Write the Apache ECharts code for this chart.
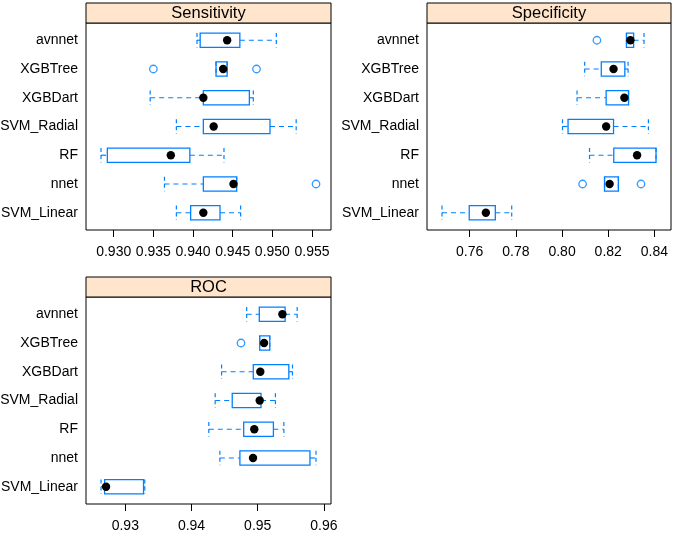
<!DOCTYPE html>
<html>
<head>
<meta charset="utf-8">
<script src="https://cdn.jsdelivr.net/npm/echarts@6/dist/echarts.min.js"></script>
<style>html,body{margin:0;padding:0;background:#fff;}#c{width:675px;height:533px;}</style>
</head>
<body>
<div id="c"></div>
<script>
// categories, bottom to top
const models = ['SVM_Linear', 'nnet', 'RF', 'SVM_Radial', 'XGBDart', 'XGBTree', 'avnnet'];

// Sensitivity
const sensLow  = [0.9379, 0.9364, 0.9284, 0.9379, 0.9346, 0.9429, 0.9405];
const sensQ1   = [0.9397, 0.9413, 0.9292, 0.9413, 0.9413, 0.9429, 0.9409];
const sensMed  = [0.9413, 0.9451, 0.9372, 0.9426, 0.9413, 0.9438, 0.9443];
const sensQ3   = [0.9434, 0.9455, 0.9396, 0.9497, 0.9471, 0.9443, 0.9459];
const sensHigh = [0.9460, 0.9455, 0.9439, 0.9530, 0.9476, 0.9443, 0.9505];
const sensOutModel = ['nnet', 'XGBTree', 'XGBTree'];
const sensOutValue = [0.9555, 0.9350, 0.9480];
const sensTicks = [0.930, 0.935, 0.940, 0.945, 0.950, 0.955];

// Specificity
const specLow  = [0.7480, 0.8184, 0.8119, 0.8002, 0.8065, 0.8098, 0.8279];
const specQ1   = [0.7598, 0.8184, 0.8224, 0.8026, 0.8191, 0.8170, 0.8279];
const specMed  = [0.7670, 0.8206, 0.8325, 0.8191, 0.8270, 0.8223, 0.8296];
const specQ3   = [0.7711, 0.8244, 0.8407, 0.8223, 0.8288, 0.8272, 0.8310];
const specHigh = [0.7782, 0.8244, 0.8407, 0.8374, 0.8288, 0.8286, 0.8355];
const specOutModel = ['nnet', 'nnet', 'avnnet'];
const specOutValue = [0.8089, 0.8342, 0.8151];
const specTicks = [0.76, 0.78, 0.80, 0.82, 0.84];

// ROC
const rocLow  = [0.92633, 0.94428, 0.94261, 0.94357, 0.94454, 0.95030, 0.94833];
const rocQ1   = [0.92687, 0.94731, 0.94788, 0.94615, 0.94933, 0.95030, 0.95024];
const rocMed  = [0.92709, 0.94929, 0.94948, 0.95030, 0.95039, 0.95096, 0.95373];
const rocQ3   = [0.93275, 0.95789, 0.95237, 0.95050, 0.95470, 0.95182, 0.95414];
const rocHigh = [0.93294, 0.95880, 0.95395, 0.95267, 0.95525, 0.95182, 0.95596];
const rocOutModel = ['XGBTree'];
const rocOutValue = [0.94747];
const rocTicks = [0.93, 0.94, 0.95, 0.96];

const panelTitles = ['Sensitivity', 'Specificity', 'ROC'];

const BLUE = '#0080ff';
const FONT = '"Liberation Sans", Arial, Helvetica, sans-serif';

const panels = [
  {title: panelTitles[0], low: sensLow, q1: sensQ1, med: sensMed, q3: sensQ3, high: sensHigh,
   outM: sensOutModel, outV: sensOutValue, ticks: sensTicks, dec: 3,
   grid: {left: 86, top: 23, width: 245, height: 207}, min: 0.92651, max: 0.95739},
  {title: panelTitles[1], low: specLow, q1: specQ1, med: specMed, q3: specQ3, high: specHigh,
   outM: specOutModel, outV: specOutValue, ticks: specTicks, dec: 2,
   grid: {left: 427, top: 23, width: 244, height: 207}, min: 0.74151, max: 0.84719},
  {title: panelTitles[2], low: rocLow, q1: rocQ1, med: rocMed, q3: rocQ3, high: rocHigh,
   outM: rocOutModel, outV: rocOutValue, ticks: rocTicks, dec: 2,
   grid: {left: 86, top: 297, width: 245, height: 207}, min: 0.92406, max: 0.96107}
];

function renderBox(params, api) {
  const y = api.value(0);
  const low = api.value(1), q1 = api.value(2), med = api.value(3), q3 = api.value(4), high = api.value(5);
  const pLow = api.coord([low, y]);
  const pQ1 = api.coord([q1, y]);
  const pMed = api.coord([med, y]);
  const pQ3 = api.coord([q3, y]);
  const pHigh = api.coord([high, y]);
  const h = api.size([0, 0.5])[1];
  const dash = {stroke: BLUE, lineWidth: 1.2, lineDash: [5, 4]};
  const solid = {stroke: BLUE, lineWidth: 1.3, fill: 'rgba(255,255,255,0)'};
  const children = [];
  if (pQ1[0] - pLow[0] > 0.5) {
    children.push({type: 'line', shape: {x1: pLow[0], y1: pLow[1], x2: pQ1[0], y2: pQ1[1]}, style: dash});
  }
  if (pHigh[0] - pQ3[0] > 0.5) {
    children.push({type: 'line', shape: {x1: pQ3[0], y1: pQ3[1], x2: pHigh[0], y2: pHigh[1]}, style: dash});
  }
  children.push({type: 'line', shape: {x1: pLow[0], y1: pLow[1] - h / 2, x2: pLow[0], y2: pLow[1] + h / 2}, style: {stroke: BLUE, lineWidth: 1.2, lineDash: [4, 3]}});
  children.push({type: 'line', shape: {x1: pHigh[0], y1: pHigh[1] - h / 2, x2: pHigh[0], y2: pHigh[1] + h / 2}, style: {stroke: BLUE, lineWidth: 1.2, lineDash: [4, 3]}});
  children.push({type: 'rect', shape: {x: pQ1[0], y: pQ1[1] - h / 2, width: pQ3[0] - pQ1[0], height: h}, style: solid});
  children.push({type: 'circle', shape: {cx: pMed[0], cy: pMed[1], r: 4.2}, style: {fill: '#000'}});
  return {type: 'group', children: children};
}

const grids = [], xAxes = [], yAxes = [], series = [], graphics = [];
panels.forEach((p, i) => {
  grids.push(Object.assign({show: true, borderColor: '#000', borderWidth: 1, backgroundColor: '#fff', outerBoundsMode: 'none'}, p.grid));
  xAxes.push({
    type: 'value', gridIndex: i, min: p.min, max: p.max, position: 'bottom',
    axisLine: {show: false},
    splitLine: {show: false},
    axisTick: {show: true, length: 7, inside: false, customValues: p.ticks, lineStyle: {color: '#000', width: 1}},
    axisLabel: {show: true, customValues: p.ticks, margin: 15, color: '#000', fontSize: 14, fontFamily: FONT,
      formatter: v => Number(v).toFixed(p.dec)}
  });
  yAxes.push({
    type: 'value', gridIndex: i, min: 0.4, max: 7.6,
    axisLine: {show: false}, splitLine: {show: false}, axisTick: {show: false},
    axisLabel: {show: true, customValues: [1, 2, 3, 4, 5, 6, 7], margin: 8, color: '#000', fontSize: 14, fontFamily: FONT,
      formatter: v => models[Math.round(v) - 1] || ''}
  });
  const boxData = models.map((m, k) => [k + 1, p.low[k], p.q1[k], p.med[k], p.q3[k], p.high[k]]);
  series.push({
    type: 'custom', xAxisIndex: i, yAxisIndex: i, renderItem: renderBox,
    encode: {x: [1, 2, 3, 4, 5], y: 0}, data: boxData, silent: true, clip: false
  });
  const outData = p.outM.map((m, k) => [p.outV[k], models.indexOf(m) + 1]);
  series.push({
    type: 'scatter', xAxisIndex: i, yAxisIndex: i, data: outData, symbol: 'circle', symbolSize: 7.5,
    itemStyle: {color: '#fff', borderColor: BLUE, borderWidth: 1.3}, silent: true
  });
  // strip
  const g = p.grid;
  graphics.push({
    type: 'group', children: [
      {type: 'rect', shape: {x: g.left, y: g.top - 20, width: g.width, height: 20},
       style: {fill: '#ffe5cc', stroke: '#000', lineWidth: 1}},
      {type: 'text', x: g.left + g.width / 2, y: g.top - 10,
       style: {text: p.title, fill: '#000', font: '16.5px ' + FONT, textAlign: 'center', textVerticalAlign: 'middle'}}
    ]
  });
});

const chart = echarts.init(document.getElementById('c'), null, {renderer: 'canvas'});
chart.setOption({
  animation: false,
  backgroundColor: '#fff',
  grid: grids,
  xAxis: xAxes,
  yAxis: yAxes,
  series: series,
  graphic: graphics
});
</script>
</body>
</html>
